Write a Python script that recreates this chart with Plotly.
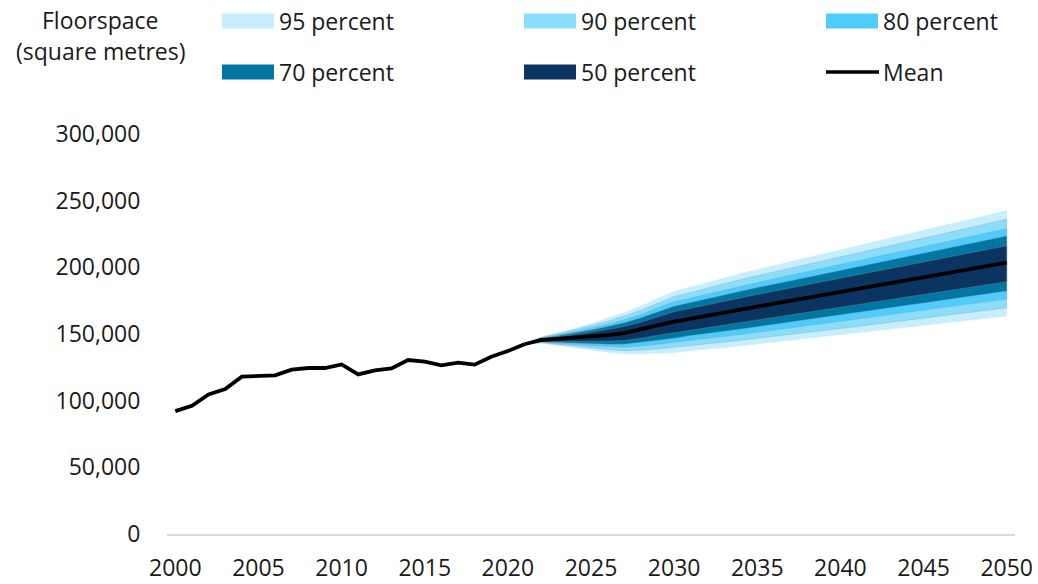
import plotly.graph_objects as go

# ---------------- data (values in thousands of square metres) ----------------
hist_years = list(range(2000, 2022))
hist_values = [92.2, 96.2, 104.7, 108.7, 118.0, 118.2, 119.0, 123.2, 124.5, 124.5,
               127.2, 119.7, 122.7, 124.2, 130.5, 129.3, 126.5, 128.5, 127.0, 133.0,
               137.2, 142.3]

proj_years = list(range(2021, 2051))
mean_values = [142.3, 145.5, 146.3, 147.1, 148.0, 149.2, 150.7, 153.2, 156.4, 159.3,
               161.7, 164.0, 166.2, 168.4, 170.6, 172.8, 175.0, 177.2, 179.4, 181.5,
               183.7, 185.9, 188.1, 190.3, 192.5, 194.7, 196.9, 199.1, 201.3, 203.5]

upper95 = [142.3, 147.8, 151.0, 154.1, 157.8, 161.7, 165.9, 170.8, 176.7, 181.9,
           185.1, 188.6, 191.9, 195.3, 198.3, 201.3, 204.3, 207.2, 210.2, 213.1,
           216.1, 219.1, 222.0, 225.0, 227.8, 230.6, 233.6, 236.5, 239.5, 242.5]
upper90 = [142.3, 147.5, 150.2, 153.0, 156.1, 159.6, 163.4, 167.8, 173.3, 178.2,
           181.2, 184.5, 187.7, 190.8, 193.7, 196.5, 199.4, 202.2, 205.1, 207.8,
           210.7, 213.5, 216.4, 219.2, 221.9, 224.6, 227.5, 230.3, 233.2, 236.0]
upper80 = [142.3, 147.0, 149.4, 151.7, 154.4, 157.4, 160.6, 164.7, 169.7, 174.1,
           177.0, 180.1, 183.0, 186.0, 188.7, 191.4, 194.1, 196.8, 199.5, 202.2,
           204.9, 207.6, 210.3, 213.0, 215.6, 218.2, 220.9, 223.6, 226.3, 229.0]
upper70 = [142.3, 146.7, 148.7, 150.7, 153.0, 155.6, 158.5, 162.2, 166.8, 170.9,
           173.7, 176.6, 179.4, 182.2, 184.8, 187.4, 190.0, 192.6, 195.2, 197.7,
           200.3, 202.9, 205.5, 208.1, 210.6, 213.1, 215.7, 218.3, 220.9, 223.5]
upper50 = [142.3, 146.3, 147.8, 149.4, 151.2, 153.3, 155.7, 158.9, 163.0, 166.7,
           169.3, 172.0, 174.6, 177.2, 179.6, 182.1, 184.5, 187.0, 189.4, 191.8,
           194.2, 196.7, 199.1, 201.6, 204.0, 206.4, 208.8, 211.3, 213.7, 216.2]
lower50 = [142.3, 144.6, 144.6, 144.5, 144.4, 144.6, 145.1, 146.8, 149.0, 151.0,
           153.1, 155.0, 156.8, 158.5, 160.4, 162.4, 164.3, 166.2, 168.1, 169.9,
           171.8, 173.7, 175.7, 177.6, 179.6, 181.5, 183.5, 185.4, 187.3, 189.2]
lower70 = [142.3, 144.2, 143.7, 143.3, 142.7, 142.4, 142.4, 143.6, 145.3, 146.9,
           148.9, 150.6, 152.1, 153.7, 155.5, 157.3, 159.0, 160.8, 162.6, 164.2,
           166.0, 167.8, 169.6, 171.3, 173.2, 175.1, 176.9, 178.7, 180.4, 182.2]
lower80 = [142.3, 143.9, 143.0, 142.2, 141.2, 140.5, 140.1, 140.9, 142.2, 143.5,
           145.3, 146.8, 148.2, 149.6, 151.2, 152.9, 154.5, 156.2, 157.8, 159.4,
           161.0, 162.7, 164.3, 166.0, 167.8, 169.6, 171.2, 172.9, 174.5, 176.2]
lower90 = [142.3, 143.5, 142.2, 141.0, 139.5, 138.4, 137.5, 138.0, 138.8, 139.7,
           141.4, 142.7, 143.9, 145.1, 146.6, 148.1, 149.6, 151.2, 152.7, 154.1,
           155.6, 157.2, 158.7, 160.2, 161.9, 163.6, 165.1, 166.7, 168.2, 169.7]
lower95 = [142.3, 143.1, 141.5, 139.9, 138.0, 136.4, 135.1, 135.2, 135.6, 136.1,
           137.7, 138.8, 139.8, 140.8, 142.2, 143.6, 145.0, 146.4, 147.8, 149.1,
           150.5, 151.9, 153.3, 154.7, 156.3, 157.9, 159.3, 160.7, 162.1, 163.5]

band_names = ["95 percent", "90 percent", "80 percent", "70 percent", "50 percent"]
band_upper = [upper95, upper90, upper80, upper70, upper50]
band_lower = [lower95, lower90, lower80, lower70, lower50]
band_colors = ["#C6EEFC", "#8ADEFC", "#4FCBFC", "#0077A3", "#0B3560"]

y_ticks = [0, 50000, 100000, 150000, 200000, 250000, 300000]
x_ticks = list(range(2000, 2051, 5))

FONT = "Open Sans, Noto Sans, sans-serif"
TXT = "#1a1a1a"
FS = 23

W, H = 1038, 584
ml, mr, mt, mb = 167, 23, 134, 50
PW, PH = W - ml - mr, H - mt - mb


def px(x):
    return (x - ml) / PW


def py(y):
    return 1 - (y - mt) / PH


def k(v):
    return [x * 1000 for x in v]


fig = go.Figure()

for i, (name, up, lo, col) in enumerate(zip(band_names, band_upper, band_lower, band_colors)):
    edge = col if i == 0 else "rgba(150,150,150,0.55)"
    fig.add_trace(go.Scatter(
        x=proj_years + proj_years[::-1],
        y=k(up) + k(lo)[::-1],
        fill="toself", fillcolor=col, mode="lines",
        line=dict(width=0.6, color=edge),
        name=name, showlegend=False, hoverinfo="skip"))

fig.add_trace(go.Scatter(x=hist_years, y=k(hist_values), mode="lines",
                         line=dict(color="black", width=3.8),
                         showlegend=False, name="Historical"))
fig.add_trace(go.Scatter(x=proj_years, y=k(mean_values), mode="lines",
                         line=dict(color="black", width=3.8),
                         showlegend=False, name="Mean"))

# manual legend
legend_items = [
    ("95 percent", band_colors[0], 222, 21),
    ("90 percent", band_colors[1], 524, 21),
    ("80 percent", band_colors[2], 826, 21),
    ("70 percent", band_colors[3], 222, 72),
    ("50 percent", band_colors[4], 524, 72),
]
shapes = []
annotations = []
for label, col, x0, yc in legend_items:
    shapes.append(dict(type="rect", xref="paper", yref="paper",
                       x0=px(x0), x1=px(x0 + 52), y0=py(yc - 7.5), y1=py(yc + 7.5),
                       fillcolor=col, line=dict(width=0), layer="above"))
    annotations.append(dict(xref="paper", yref="paper", x=px(x0 + 55), y=py(yc),
                            text=label, showarrow=False, xanchor="left", yanchor="middle",
                            font=dict(family=FONT, size=FS, color=TXT)))
shapes.append(dict(type="line", xref="paper", yref="paper",
                   x0=px(826), x1=px(879), y0=py(72), y1=py(72),
                   line=dict(color="black", width=3.5), layer="above"))
annotations.append(dict(xref="paper", yref="paper", x=px(881), y=py(72),
                        text="Mean", showarrow=False, xanchor="left", yanchor="middle",
                        font=dict(family=FONT, size=FS, color=TXT)))
annotations.append(dict(xref="paper", yref="paper", x=px(100), y=py(20),
                        text="Floorspace", showarrow=False, xanchor="center", yanchor="middle",
                        font=dict(family=FONT, size=FS, color=TXT)))
annotations.append(dict(xref="paper", yref="paper", x=px(100), y=py(51),
                        text="(square metres)", showarrow=False, xanchor="center", yanchor="middle",
                        font=dict(family=FONT, size=FS, color=TXT)))

fig.update_layout(
    width=W, height=H,
    margin=dict(l=ml, r=mr, t=mt, b=mb, pad=0, autoexpand=False),
    paper_bgcolor="white", plot_bgcolor="white",
    font=dict(family=FONT, size=FS, color=TXT),
    showlegend=False,
    shapes=shapes, annotations=annotations,
    xaxis=dict(range=[1999.5, 2050.5], tickmode="array", tickvals=x_ticks,
               ticktext=[str(t) for t in x_ticks],
               showgrid=False, zeroline=False, showline=True,
               linecolor="#D9D9D9", linewidth=1.5, automargin=False,
               ticks="outside", ticklen=13, tickcolor="rgba(0,0,0,0)",
               tickfont=dict(family=FONT, size=FS, color=TXT), fixedrange=True),
    yaxis=dict(range=[0, 300000], tickmode="array", tickvals=y_ticks,
               ticktext=[f"{t:,}" for t in y_ticks],
               showgrid=False, zeroline=False, showline=False, automargin=False,
               ticks="outside", ticklen=21, tickcolor="rgba(0,0,0,0)",
               tickfont=dict(family=FONT, size=FS, color=TXT), fixedrange=True),
)

fig.write_html("out.html")
